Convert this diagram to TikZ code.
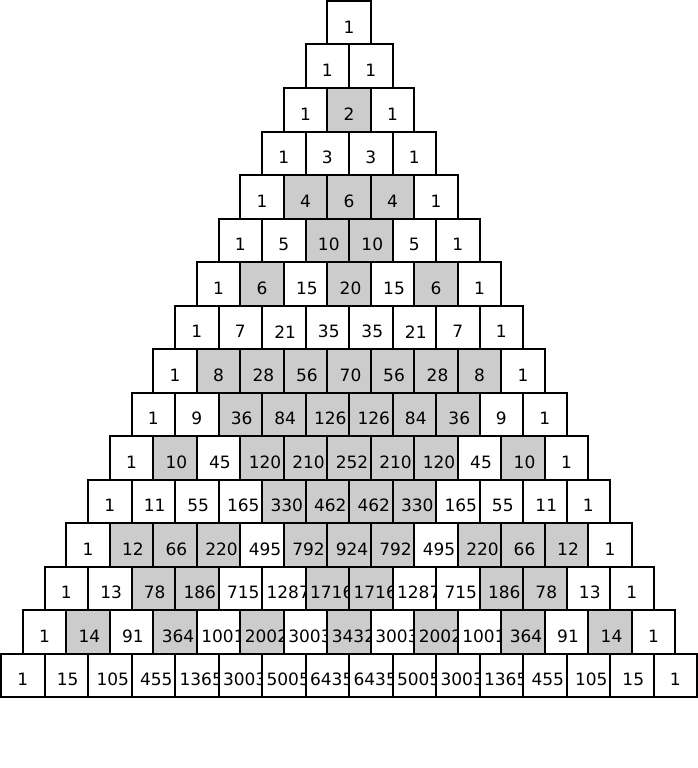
\documentclass[tikz,border=0pt]{standalone}
\usepackage{fontspec}
\setmainfont{DejaVu Sans}
\definecolor{shade}{HTML}{CCCCCC}
\tikzset{
  cellbox/.style={draw=black, line width=2pt, minimum width=43.5pt, minimum height=43.5pt, inner sep=0pt, outer sep=0pt},
  numtext/.style={font=\fontsize{17}{17}\selectfont, inner sep=0pt, text=black}
}
\begin{document}
\begin{tikzpicture}[x=1pt,y=-1pt]
\useasboundingbox (0,0) rectangle (698,768);
\foreach \row [count=\r from 0] in {
  {1},
  {1,1},
  {1,2,1},
  {1,3,3,1},
  {1,4,6,4,1},
  {1,5,10,10,5,1},
  {1,6,15,20,15,6,1},
  {1,7,21,35,35,21,7,1},
  {1,8,28,56,70,56,28,8,1},
  {1,9,36,84,126,126,84,36,9,1},
  {1,10,45,120,210,252,210,120,45,10,1},
  {1,11,55,165,330,462,462,330,165,55,11,1},
  {1,12,66,220,495,792,924,792,495,220,66,12,1},
  {1,13,78,186,715,1287,1716,1716,1287,715,186,78,13,1},
  {1,14,91,364,1001,2002,3003,3432,3003,2002,1001,364,91,14,1},
  {1,15,105,455,1365,3003,5005,6435,6435,5005,3003,1365,455,105,15,1}}
{
  \foreach \v [count=\k from 0] in \row {
    \pgfmathsetmacro\cx{1+(15-\r)*21.75+\k*43.5+21.75}
    \pgfmathsetmacro\cy{1+\r*43.5+21.75}
    \pgfmathsetmacro\sh{1.5*((\v>9)+(\v>99)+(\v>999))}
    \ifodd\v\relax\def\fc{white}\else\def\fc{shade}\fi
    \node[cellbox, fill=\fc] (c-\r-\k) at (\cx,\cy) {};
    \node[numtext, xshift=\sh pt, yshift=-4.5pt] (t-\r-\k) at (c-\r-\k.center) {\v};
  }
}
\end{tikzpicture}
\end{document}
